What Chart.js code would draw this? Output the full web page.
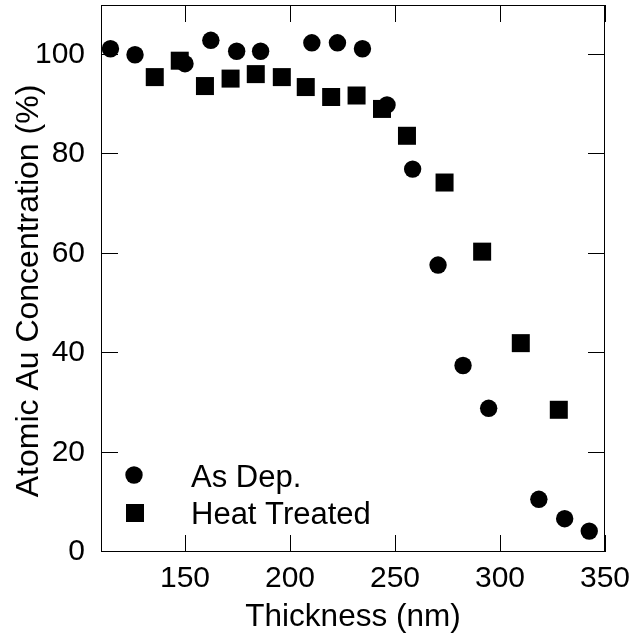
<!DOCTYPE html>
<html>
<head>
<meta charset="utf-8">
<title>Atomic Au Concentration vs Thickness</title>
<script src="https://cdn.jsdelivr.net/npm/chart.js@4"></script>
<style>
    html, body { margin: 0; padding: 0; background: #fff; }
    #wrap { width: 633px; height: 639px; }
</style>
</head>
<body>
<div id="wrap"><canvas id="chart" width="633" height="639"></canvas></div>
<script>
// As deposited samples
const asDepThickness = [114.5, 126.2, 150, 162.3, 174.6, 186, 210.4, 222.6, 234.5, 246.2, 258.4, 270.5, 282.4, 294.6, 318.5, 330.8, 342.5];
const asDepConc = [101.2, 100.0, 98.2, 102.9, 100.7, 100.7, 102.4, 102.4, 101.2, 89.9, 77.0, 57.7, 37.5, 28.9, 10.6, 6.7, 4.2];

// Heat treated samples
const heatThickness = [135.6, 147.5, 159.5, 171.7, 183.7, 196.1, 207.5, 219.6, 231.7, 243.8, 255.7, 273.6, 291.5, 309.9, 328.0];
const heatConc = [95.5, 98.8, 93.7, 95.2, 96.1, 95.5, 93.5, 91.5, 91.8, 89.1, 83.7, 74.3, 60.4, 42.0, 28.6];

const seriesLabels = ['As Dep.', 'Heat Treated'];
const xTicks = [150, 200, 250, 300, 350];
const yTicks = [0, 20, 40, 60, 80, 100];
const xTitle = 'Thickness (nm)';
const yTitle = 'Atomic Au Concentration (%)';

const FONT = "'Liberation Sans', Arial, Helvetica, sans-serif";
const TICK_LEN = 17;

function toPoints(xs, ys) {
    return xs.map((x, i) => ({ x: x, y: ys[i] }));
}

/**
 * Frame around the plot area plus inward ticks on all four sides
 */
const frameTicks = {
    id: 'frameTicks',
    beforeDatasetsDraw(chart) {
        const { ctx, chartArea: a, scales } = chart;
        ctx.save();
        ctx.strokeStyle = '#000';
        ctx.lineWidth = 1;
        ctx.strokeRect(a.left + 0.5, a.top + 0.5, a.right - a.left - 1, a.bottom - a.top - 1);
        ctx.beginPath();
        scales.x.ticks.forEach(t => {
            const px = Math.round(scales.x.getPixelForValue(t.value)) + 0.5;
            ctx.moveTo(px, a.bottom);
            ctx.lineTo(px, a.bottom - TICK_LEN);
            ctx.moveTo(px, a.top);
            ctx.lineTo(px, a.top + TICK_LEN);
        });
        scales.y.ticks.forEach(t => {
            const py = Math.round(scales.y.getPixelForValue(t.value)) - 0.5;
            ctx.moveTo(a.left, py);
            ctx.lineTo(a.left + TICK_LEN, py);
            ctx.moveTo(a.right, py);
            ctx.lineTo(a.right - TICK_LEN, py);
        });
        ctx.stroke();
        ctx.restore();
    },
    afterDraw(chart) {
        const { ctx } = chart;
        ctx.save();
        ctx.fillStyle = '#000';

        // Vertical axis title
        ctx.font = '32px ' + FONT;
        ctx.textAlign = 'center';
        ctx.textBaseline = 'alphabetic';
        ctx.translate(38, 291);
        ctx.rotate(-Math.PI / 2);
        ctx.fillText(yTitle, 0, 0);
        ctx.setTransform(1, 0, 0, 1, 0, 0);

        // Legend inside the plot, bottom left
        ctx.font = '31px ' + FONT;
        ctx.textAlign = 'left';
        const rows = [
            { style: 'circle', y: 475, base: 487 },
            { style: 'rect', y: 513, base: 524 }
        ];
        rows.forEach((r, i) => {
            ctx.beginPath();
            if (r.style === 'circle') {
                ctx.arc(134, r.y, 8.7, 0, Math.PI * 2);
            } else {
                ctx.rect(126, r.y - 9, 18, 18);
            }
            ctx.fill();
            ctx.fillText(seriesLabels[i], 191, r.base);
        });
        ctx.restore();
    }
};

new Chart(document.getElementById('chart'), {
    type: 'scatter',
    data: {
        datasets: [
            {
                label: seriesLabels[0],
                data: toPoints(asDepThickness, asDepConc),
                pointStyle: 'circle',
                pointRadius: 8.7,
                pointBorderWidth: 0,
                backgroundColor: '#000',
                borderColor: '#000'
            },
            {
                label: seriesLabels[1],
                data: toPoints(heatThickness, heatConc),
                pointStyle: 'rect',
                pointRadius: 12.73,
                pointBorderWidth: 0,
                backgroundColor: '#000',
                borderColor: '#000'
            }
        ]
    },
    options: {
        responsive: false,
        animation: false,
        layout: {
            autoPadding: false,
            padding: { left: 0, right: 28, top: 5, bottom: 0 }
        },
        plugins: {
            legend: { display: false },
            tooltip: { enabled: false }
        },
        scales: {
            x: {
                type: 'linear',
                min: 110,
                max: 350,
                grid: { display: false, drawTicks: false },
                border: { display: false },
                afterBuildTicks: s => { s.ticks = xTicks.map(v => ({ value: v })); },
                afterFit: s => {
                    s.height = 87;
                    s.paddingLeft = 0;
                    s.paddingRight = 0;
                },
                ticks: {
                    color: '#000',
                    padding: 9,
                    maxRotation: 0,
                    font: { family: FONT, size: 30 }
                },
                title: {
                    display: true,
                    text: xTitle,
                    color: '#000',
                    padding: { top: 0, bottom: 3 },
                    font: { family: FONT, size: 31.5 }
                }
            },
            y: {
                type: 'linear',
                min: 0,
                max: 110,
                grid: { display: false, drawTicks: false },
                border: { display: false },
                afterBuildTicks: s => { s.ticks = yTicks.map(v => ({ value: v })); },
                afterFit: s => {
                    s.width = 101;
                    s.paddingTop = 0;
                    s.paddingBottom = 0;
                },
                ticks: {
                    color: '#000',
                    padding: 16,
                    font: { family: FONT, size: 30 }
                }
            }
        }
    },
    plugins: [frameTicks]
});
</script>
</body>
</html>
